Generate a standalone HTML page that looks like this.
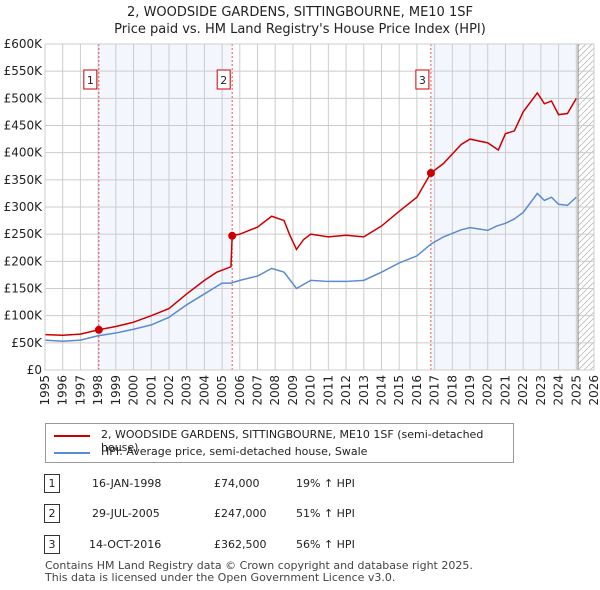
<!DOCTYPE html>
<html><head><meta charset="utf-8"><style>
body{margin:0;background:#fff;font-family:"DejaVu Sans","Liberation Sans",sans-serif;}
#wrap{position:relative;width:600px;height:590px;overflow:hidden}
.t{position:absolute;font-size:12px;color:#222}
svg text{font-family:"DejaVu Sans","Liberation Sans",sans-serif}
</style></head><body><div id="wrap">
<svg id="c" width="600" height="590" style="position:absolute;left:0;top:0"></svg>
</div>
<script>
const yTicks=[0,50,100,150,200,250,300,350,400,450,500,550,600];
const years=[1995,1996,1997,1998,1999,2000,2001,2002,2003,2004,2005,2006,2007,2008,2009,2010,2011,2012,2013,2014,2015,2016,2017,2018,2019,2020,2021,2022,2023,2024,2025,2026];
const hpiT=[1995,1996,1997,1998,1999,2000,2001,2002,2003,2004,2004.5,2005,2005.5,2006,2007,2007.8,2008.5,2009.2,2010,2011,2012,2013,2014,2015,2016,2016.8,2017.5,2018.5,2019,2020,2020.5,2021,2021.5,2022,2022.8,2023.2,2023.6,2024,2024.5,2025];
const hpiV=[55,53,55,63,68,75,83,97,120,140,150,160,160,165,173,187,180,150,165,163,163,165,180,197,210,232,245,258,262,257,265,270,278,290,325,312,318,305,303,318];
const ppT=[1995,1996,1997,1998.04,1999,2000,2001,2002,2003,2004,2004.7,2005.5,2005.57,2006,2007,2007.8,2008.5,2008.8,2009.2,2009.6,2010,2011,2012,2013,2014,2015,2016,2016.79,2017.5,2018.5,2019,2020,2020.6,2021,2021.5,2022,2022.8,2023.2,2023.6,2024,2024.5,2025];
const ppV=[65,64,66,74,80,88,100,113,140,165,180,190,247,250,263,283,275,250,222,240,250,245,248,245,265,292,318,362.5,380,415,425,418,405,435,440,475,510,490,495,470,472,500];
const saleT=[1998.04,2005.57,2016.79];
const saleV=[74,247,362.5];
const saleLbl=["1","2","3"];
const L=45,R=594,T=44,B=370;
const x=v=>L+(v-1995)/31*(R-L);
const y=v=>B-v/600*(B-T);
const s=document.getElementById('c');const NS='http://www.w3.org/2000/svg';
function E(t,a,p){const e=document.createElementNS(NS,t);for(const k in a)e.setAttribute(k,a[k]);(p||s).appendChild(e);return e;}
let d=E('defs',{});let pt=E('pattern',{id:'h',width:6,height:6,patternUnits:'userSpaceOnUse'},d);E('path',{d:'M0,6L6,0',stroke:'#bbb','stroke-width':0.8},pt);
let r=E('rect',{x:x(saleT[0]),y:T,width:x(saleT[1])-x(saleT[0]),height:B-T,fill:'#eef3fc',opacity:0.7});
r=E('rect',{x:x(saleT[2]),y:T,width:x(2025.1)-x(saleT[2]),height:B-T,fill:'#eef3fc',opacity:0.7});
r=E('rect',{x:x(2025.1),y:T,width:R-x(2025.1),height:B-T,fill:'url(#h)'});
years.forEach(v=>{E('line',{x1:x(v),x2:x(v),y1:T,y2:B,stroke:'#ccc'});
 let t=E('text',{x:0,y:0,transform:`translate(${x(v)+4},${B+5}) rotate(-90)`,'text-anchor':'end','font-size':12,fill:'#222'});t.textContent=v;});
yTicks.forEach(v=>{E('line',{x1:L,x2:R,y1:y(v),y2:y(v),stroke:'#ccc'});
 let t=E('text',{x:L-3,y:y(v)+4,'text-anchor':'end','font-size':12,fill:'#222'});t.textContent=v?'£'+v+'K':'£0';});
E('line',{x1:x(2025.1),x2:x(2025.1),y1:T,y2:B,stroke:'#888'});
saleT.forEach((v,i)=>{E('line',{x1:x(v),x2:x(v),y1:T,y2:B,stroke:'#e55','stroke-dasharray':'2,2'});
 let bx=E('rect',{x:x(v)-15,y:70,width:13,height:19,fill:'#fff',stroke:'#c00'});
 let t=E('text',{x:x(v)-8.5,y:84,'text-anchor':'middle','font-size':11,fill:'#222'});t.textContent=saleLbl[i];});
function line(ts,vs,c,n){let p=E('polyline',{points:ts.map((t,i)=>x(t)+','+y(vs[i])).join(' '),fill:'none',stroke:c,'stroke-width':1.5});}
line(hpiT,hpiV,'#5b8bd0','hpi-line');line(ppT,ppV,'#cc0000','price-paid-line');
saleT.forEach((v,i)=>{let c=E('circle',{cx:x(v),cy:y(saleV[i]),r:4,fill:'#cc0000'});});
E('rect',{x:L,y:T,width:R-L,height:B-T,fill:'none',stroke:'#ccc'});
</script>
<div class="t" style="left:0;width:600px;top:4px;text-align:center;font-size:13px;line-height:17px">2, WOODSIDE GARDENS, SITTINGBOURNE, ME10 1SF<br>Price paid vs. HM Land Registry's House Price Index (HPI)</div>
<div style="position:absolute;left:45px;top:423px;width:467px;height:38px;border:1px solid #999;background:#fff">
 <div style="position:absolute;left:8px;top:11px;width:36px;height:2px;background:#cc0000"></div>
 <div class="t" style="left:55px;top:4px;font-size:11px">2, WOODSIDE GARDENS, SITTINGBOURNE, ME10 1SF (semi-detached house)</div>
 <div style="position:absolute;left:8px;top:28px;width:36px;height:2px;background:#5b8bd0"></div>
 <div class="t" style="left:55px;top:21px;font-size:11px">HPI: Average price, semi-detached house, Swale</div>
</div>
<div>
<div class="t" style="left:44px;top:474px;width:14px;height:17px;border:1px solid #333;text-align:center;font-size:11px;line-height:17px">1</div>
<div class="t" style="left:92px;top:477px;font-size:11px">16-JAN-1998</div><div class="t" style="left:214px;top:477px;font-size:11px">£74,000</div><div class="t" style="left:296px;top:477px;font-size:11px">19% ↑ HPI</div>
<div class="t" style="left:44px;top:504px;width:14px;height:17px;border:1px solid #333;text-align:center;font-size:11px;line-height:17px">2</div>
<div class="t" style="left:92px;top:507px;font-size:11px">29-JUL-2005</div><div class="t" style="left:214px;top:507px;font-size:11px">£247,000</div><div class="t" style="left:296px;top:507px;font-size:11px">51% ↑ HPI</div>
<div class="t" style="left:44px;top:535px;width:14px;height:17px;border:1px solid #333;text-align:center;font-size:11px;line-height:17px">3</div>
<div class="t" style="left:89px;top:538px;font-size:11px">14-OCT-2016</div><div class="t" style="left:214px;top:538px;font-size:11px">£362,500</div><div class="t" style="left:296px;top:538px;font-size:11px">56% ↑ HPI</div>
</div>
<div class="t" style="left:45px;top:560px;font-size:11px;line-height:12px;color:#444">Contains HM Land Registry data © Crown copyright and database right 2025.<br>This data is licensed under the Open Government Licence v3.0.</div>
</body></html>
